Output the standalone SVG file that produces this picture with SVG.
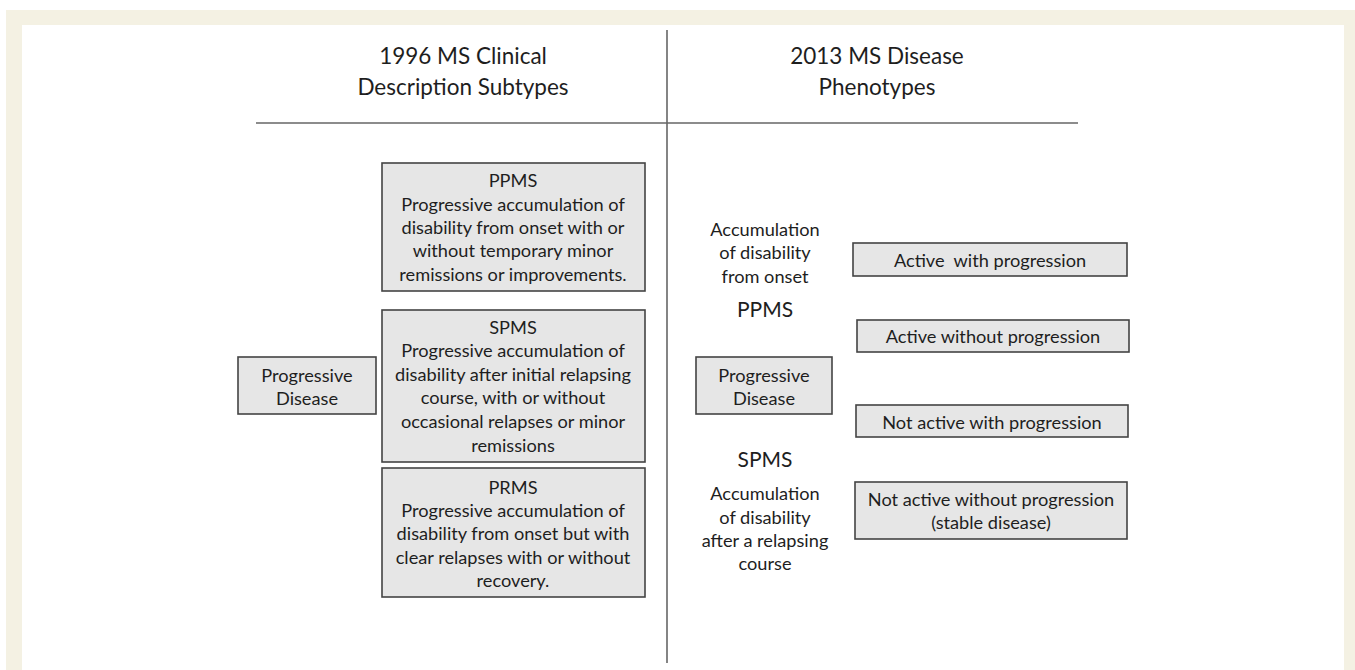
<svg xmlns="http://www.w3.org/2000/svg" width="1355" height="670" viewBox="0 0 1355 670">
  <style>
    text { font-family: Lato, "Open Sans", "Liberation Sans", sans-serif; fill: #1e1e1e; text-anchor: middle; dominant-baseline: central; }
    .t { font-size: 18.2px; }
    .h { font-size: 22.5px; }
    .big { font-size: 21px; }
    .box { fill: #e6e6e6; stroke: #444; stroke-width: 1.6; }
    .rule { stroke: #666; stroke-width: 1.6; fill: none; }
  </style>

  <!-- page frame -->
  <rect x="0" y="0" width="1355" height="670" fill="#ffffff"/>
  <rect x="6" y="10" width="1349" height="660" fill="#f4f1e3"/>
  <rect x="22" y="25" width="1322" height="645" fill="#ffffff"/>

  <!-- dividing rules -->
  <g id="connectors">
    <line class="rule" x1="667" y1="30" x2="667" y2="663"/>
    <line class="rule" x1="256" y1="123" x2="1078" y2="123"/>
  </g>

  <!-- column headings -->
  <g id="heading-1996">
    <text class="h" x="463" y="55">1996 MS Clinical</text>
    <text class="h" x="463" y="86">Description Subtypes</text>
  </g>
  <g id="heading-2013">
    <text class="h" x="877" y="55">2013 MS Disease</text>
    <text class="h" x="877" y="86">Phenotypes</text>
  </g>

  <!-- 1996 subtypes -->
  <g id="left-progressive">
    <rect class="box" x="238" y="357" width="138" height="57"/>
    <text class="t" x="307" y="375">Progressive</text>
    <text class="t" x="307" y="398">Disease</text>
  </g>
  <g id="ppms-1996">
    <rect class="box" x="382" y="163" width="263" height="128"/>
    <text class="t" x="513" y="180">PPMS</text>
    <text class="t" x="513" y="204">Progressive accumulation of</text>
    <text class="t" x="513" y="227">disability from onset with or</text>
    <text class="t" x="513" y="250">without temporary minor</text>
    <text class="t" x="513" y="274">remissions or improvements.</text>
  </g>
  <g id="spms-1996">
    <rect class="box" x="382" y="310" width="263" height="152"/>
    <text class="t" x="513" y="327">SPMS</text>
    <text class="t" x="513" y="350">Progressive accumulation of</text>
    <text class="t" x="513" y="374">disability after initial relapsing</text>
    <text class="t" x="513" y="397">course, with or without</text>
    <text class="t" x="513" y="421">occasional relapses or minor</text>
    <text class="t" x="513" y="445">remissions</text>
  </g>
  <g id="prms-1996">
    <rect class="box" x="382" y="468" width="263" height="129"/>
    <text class="t" x="513" y="487">PRMS</text>
    <text class="t" x="513" y="510">Progressive accumulation of</text>
    <text class="t" x="513" y="533">disability from onset but with</text>
    <text class="t" x="513" y="557">clear relapses with or without</text>
    <text class="t" x="513" y="580">recovery.</text>
  </g>

  <!-- 2013 phenotypes -->
  <g id="ppms-2013">
    <text class="t" x="765" y="229">Accumulation</text>
    <text class="t" x="765" y="252">of disability</text>
    <text class="t" x="765" y="276">from onset</text>
    <text class="big" x="765" y="308">PPMS</text>
  </g>
  <g id="right-progressive">
    <rect class="box" x="696" y="357" width="136" height="57"/>
    <text class="t" x="764" y="375">Progressive</text>
    <text class="t" x="764" y="398">Disease</text>
  </g>
  <g id="spms-2013">
    <text class="big" x="765" y="458">SPMS</text>
    <text class="t" x="765" y="493">Accumulation</text>
    <text class="t" x="765" y="517">of disability</text>
    <text class="t" x="765" y="540">after a relapsing</text>
    <text class="t" x="765" y="563">course</text>
  </g>
  <g id="active-with">
    <rect class="box" x="853" y="243" width="274" height="33"/>
    <text class="t" x="990" y="260" xml:space="preserve">Active  with progression</text>
  </g>
  <g id="active-without">
    <rect class="box" x="857" y="320" width="272" height="32"/>
    <text class="t" x="993" y="336">Active without progression</text>
  </g>
  <g id="not-active-with">
    <rect class="box" x="856" y="405" width="272" height="32"/>
    <text class="t" x="992" y="422">Not active with progression</text>
  </g>
  <g id="not-active-without">
    <rect class="box" x="855" y="482" width="272" height="57"/>
    <text class="t" x="991" y="499">Not active without progression</text>
    <text class="t" x="991" y="522">(stable disease)</text>
  </g>
</svg>
